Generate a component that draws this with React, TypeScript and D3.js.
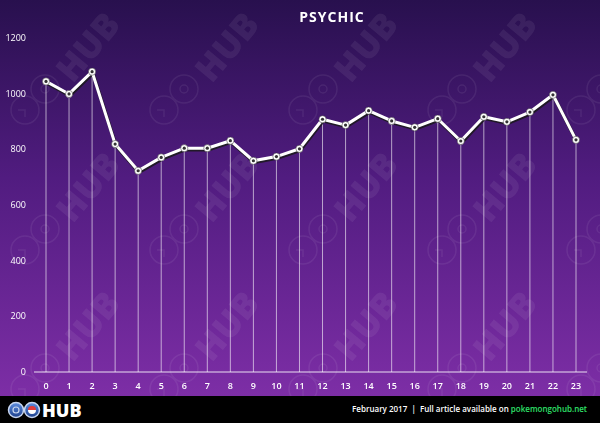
import React from 'react';
import * as d3 from 'd3';

const HOURS = ['0', '1', '2', '3', '4', '5', '6', '7', '8', '9', '10', '11', '12', '13', '14', '15', '16', '17', '18', '19', '20', '21', '22', '23'];
const SPAWNS = [1044, 999, 1079, 819, 723, 771, 804, 804, 831, 759, 774, 802, 908, 887, 939, 902, 879, 910, 830, 917, 899, 934, 996, 834];
const Y_TICKS = [0, 200, 400, 600, 800, 1000, 1200];
const TITLE = 'PSYCHIC';
const FOOTER_DATE = 'February 2017  |  Full article available on ';
const FOOTER_SITE = 'pokemongohub.net';

const W = 600;
const H = 423;
const FONT = "'Open Sans', 'Noto Sans', sans-serif";

// watermark tile centres
const WM_COLS = [88, 227, 366, 505, 644];
const WM_ROWS = [47, 187, 326];

const App: React.FC = () => {
	const x = d3.scalePoint<string>().domain(HOURS).range([46, 576]);
	const y = d3.scaleLinear().domain([0, 1200]).range([372, 38]);

	const line = d3
		.line<number>()
		.x((_, i) => x(HOURS[i]) as number)
		.y((d) => y(d));
	const path = line(SPAWNS) as string;

	return (
		<svg
			width={W}
			height={H}
			style={{ position: 'fixed', top: 0, left: 0, display: 'block' }}
			fontFamily={FONT}>
			<defs>
				<linearGradient id='bg' x1='0' y1='0' x2='0' y2='1'>
					<stop offset='0%' stopColor='#28104e' />
					<stop offset='45%' stopColor='#511c80' />
					<stop offset='100%' stopColor='#7d2ea6' />
				</linearGradient>
				<linearGradient id='go' x1='0' y1='0' x2='0' y2='1'>
					<stop offset='0%' stopColor='#5f8fe0' />
					<stop offset='100%' stopColor='#1c3f8c' />
				</linearGradient>
				<clipPath id='wmclip'>
					<rect x={0} y={0} width={W} height={396} />
				</clipPath>
			</defs>

			{/* background */}
			<rect x={0} y={0} width={W} height={396} fill='url(#bg)' />

			{/* watermarks */}
			<g opacity={0.07} fill='none' stroke='#fff' clipPath='url(#wmclip)'>
				{WM_ROWS.map((cy) =>
					WM_COLS.map((cx) => (
						<g key={`${cx}-${cy}`} transform={`translate(${cx},${cy})`}>
							{cx < W && (
								<text
									transform='rotate(-50)'
									textAnchor='middle'
									dy='0.35em'
									fontSize={35}
									fontWeight={800}
									fill='#fff'
									stroke='none'>
									HUB
								</text>
							)}
							<circle cx={-43} cy={42} r={14} strokeWidth={1.5} />
							<circle cx={-43} cy={42} r={4} strokeWidth={1.5} />
							<circle cx={-63} cy={63} r={14} strokeWidth={1.5} />
							<path d='M -70 63 L -63 63 L -63 70' strokeWidth={1.5} />
						</g>
					)),
				)}
			</g>

			{/* title */}
			<text
				x={332}
				y={22}
				textAnchor='middle'
				fontSize={14}
				fontWeight={700}
				letterSpacing={1}
				fill='#fff'>
				{TITLE}
			</text>

			{/* y ticks */}
			{Y_TICKS.map((t) => (
				<text
					key={t}
					x={26}
					y={y(t)}
					dy='0.35em'
					textAnchor='end'
					fontSize={9}
					fill='#fff'>
					{t}
				</text>
			))}

			{/* drop lines */}
			{SPAWNS.map((v, i) => (
				<line
					key={i}
					x1={x(HOURS[i])}
					x2={x(HOURS[i])}
					y1={y(v)}
					y2={y(0)}
					stroke='#fff'
					strokeOpacity={0.6}
					strokeWidth={1}
				/>
			))}

			{/* baseline */}
			<line x1={34} x2={587} y1={y(0)} y2={y(0)} stroke='#fff' strokeOpacity={0.85} strokeWidth={1} />

			{/* x ticks */}
			{HOURS.map((h) => (
				<text
					key={h}
					x={x(h)}
					y={389}
					textAnchor='middle'
					fontSize={9}
					fontWeight={600}
					fill='#fff'>
					{h}
				</text>
			))}

			{/* line with shadow */}
			<path
				d={path}
				transform='translate(0.8,1.5)'
				fill='none'
				stroke='#1a1a1a'
				strokeOpacity={0.85}
				strokeWidth={3.5}
				strokeLinejoin='round'
			/>
			<path d={path} fill='none' stroke='#fff' strokeWidth={3} strokeLinejoin='round' />

			{/* markers */}
			{SPAWNS.map((v, i) => (
				<g key={i}>
					<circle cx={x(HOURS[i])} cy={y(v)} r={3.6} fill='#fff' stroke='#333' strokeWidth={0.5} />
					<circle cx={x(HOURS[i])} cy={y(v)} r={1.6} fill='#333' />
				</g>
			))}

			{/* footer */}
			<rect x={0} y={396} width={W} height={H - 396} fill='#000' />
			<g>
				<circle cx={16} cy={410} r={7.5} fill='url(#go)' stroke='#c8d6f0' strokeWidth={1.5} />
				<circle cx={16} cy={410} r={3} fill='none' stroke='#c8d6f0' strokeWidth={1.2} />
				<circle cx={32} cy={410} r={7.5} fill='url(#go)' stroke='#c8d6f0' strokeWidth={1.5} />
				<path d='M 28 410 A 4 4 0 0 1 36 410 Z' fill='#e23b3b' />
				<path d='M 28 410 A 4 4 0 0 0 36 410 Z' fill='#fff' />
				<text x={42} y={417} fontSize={18} fontWeight={800} fill='#fff'>
					HUB
				</text>
			</g>
			<text x={587} y={412} textAnchor='end' fontSize={8} fontWeight={600} fill='#fff' style={{ whiteSpace: 'pre' }}>
				{FOOTER_DATE}
				<tspan fill='#2fe06a'>{FOOTER_SITE}</tspan>
			</text>
		</svg>
	);
};

export default App;
